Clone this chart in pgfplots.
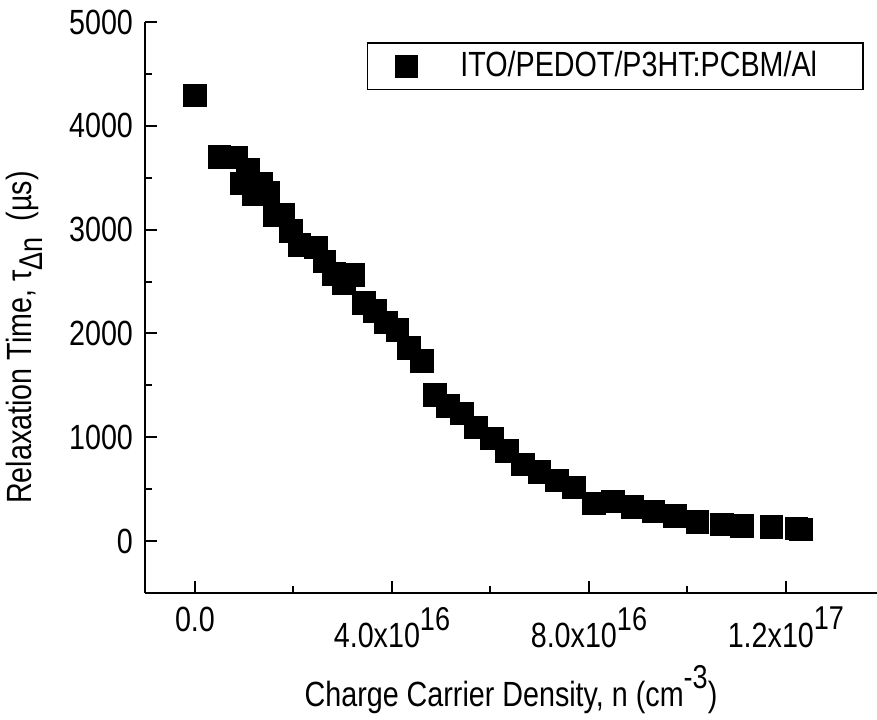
\documentclass[border=0pt]{standalone}
\usepackage{fontspec}
\setmainfont{Liberation Sans}[FakeStretch=0.82]
\usepackage{pgfplots}
\pgfplotsset{compat=1.18}

% raised, nearly full size exponent as in the original
\newcommand{\up}[1]{\raisebox{0.5em}{\fontsize{16.5}{16.5}\selectfont #1}}

\begin{document}
\fontsize{17.5}{21}\selectfont
\begin{tikzpicture}
\begin{axis}[
  scale only axis, width=366pt, height=285.5pt,
  xmin=-1.015e16, xmax=1.385e17, ymin=-500, ymax=5000,
  axis x line=bottom, axis y line=left,
  axis line style={-, line width=1pt},
  tick align=inside, major tick length=6pt, minor tick length=3.5pt,
  every tick/.style={black, line width=1pt},
  xtick={0,4e16,8e16,1.2e17}, minor xtick={2e16,6e16,1e17},
  xticklabels={0.0, 4.0x10\up{16}, 8.0x10\up{16}, 1.2x10\up{17}},
  scaled x ticks=false,
  ytick={0,1000,...,5000}, minor ytick={500,1500,...,4500},
  yticklabels={0,1000,2000,3000,4000,5000},
  xticklabel style={yshift=-1pt},
  xlabel={Charge Carrier Density, n (cm\up{-3})},
  xlabel style={at={(axis description cs:0.5,-0.198)}, anchor=base},
  ylabel={Relaxation Time, τ\raisebox{-0.3em}{\fontsize{16.5}{16.5}\selectfont Δn}\ \ (µs)},
  ylabel style={at={(axis description cs:-0.1544,0.4475)}, anchor=base},
  legend style={at={(axis description cs:0.982,0.965)}, anchor=north east,
    draw=black, line width=0.8pt},
  legend image code/.code={\path (-7.5pt,0) (0.6cm+16pt,0);
    \draw[#1] plot coordinates {(0.3cm,0cm)};},
]
\addplot[only marks, mark=square*, mark size=5.6pt,
  mark options={fill=black, draw=black, line width=0.3pt}]
  table {
x y
0 4294
0.491e16 3700
0.826e16 3696
1.076e16 3576
0.948e16 3445
1.350e16 3447
1.198e16 3346
1.492e16 3361
1.620e16 3139
1.791e16 3144
1.949e16 2989
2.122e16 2854
2.457e16 2830
2.625e16 2693
2.818e16 2575
3.218e16 2565
3.021e16 2483
3.431e16 2295
3.649e16 2218
3.872e16 2105
4.112e16 2035
4.345e16 1861
4.605e16 1736
4.873e16 1408
5.137e16 1302
5.421e16 1230
5.706e16 1099
6.024e16 988
6.335e16 870
6.660e16 738
6.995e16 667
7.346e16 588
7.695e16 521
8.102e16 362
8.487e16 386
8.883e16 330
9.310e16 289
9.746e16 243
10.203e16 185
10.701e16 164
11.107e16 147
11.706e16 138
12.213e16 125
12.305e16 111
};
\addlegendentry{ITO/PEDOT/P3HT:PCBM/Al\hspace*{18pt}}
\end{axis}
\pgfresetboundingbox
\path[use as bounding box] (-72.5pt,-63pt) rectangle (366pt,296.5pt);
\end{tikzpicture}
\end{document}
